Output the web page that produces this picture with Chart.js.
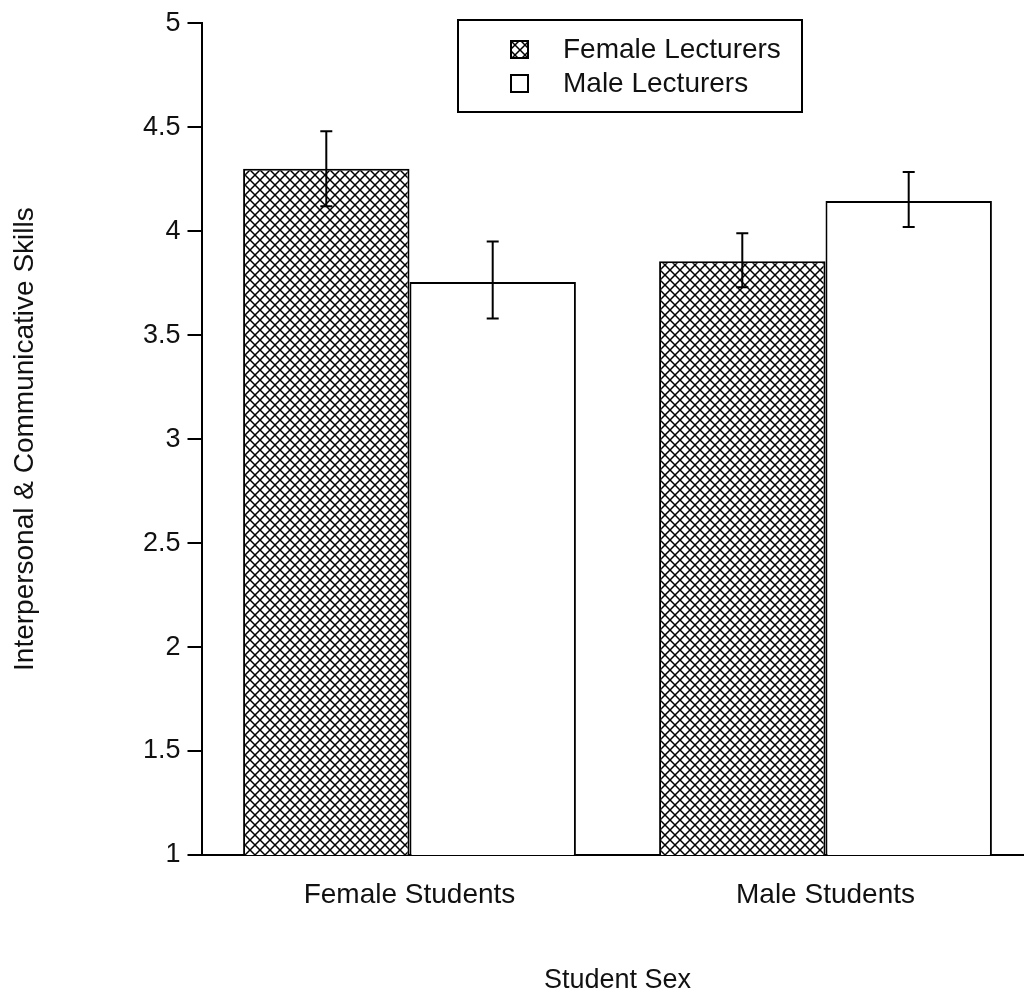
<!DOCTYPE html>
<html>
<head>
<meta charset="utf-8">
<script src="https://cdn.jsdelivr.net/npm/chart.js@4.4.1/dist/chart.umd.min.js"></script>
<style>
  html, body { margin: 0; padding: 0; background: #fff; overflow: hidden; }
  canvas { display: block; }
</style>
</head>
<body>
<canvas id="skillsChart" width="1040" height="998"></canvas>
<script>
const categories = ['Female Students', 'Male Students'];
const seriesLabels = ['Female Lecturers', 'Male Lecturers'];
const femaleLecturers = [4.30, 3.855];
const maleLecturers = [3.755, 4.145];
const femaleErrLow = [4.12, 3.73];
const femaleErrHigh = [4.48, 3.99];
const maleErrLow = [3.58, 4.02];
const maleErrHigh = [3.95, 4.285];
const yTicks = [1, 1.5, 2, 2.5, 3, 3.5, 4, 4.5, 5];

const FONT = '"Liberation Sans", Arial, sans-serif';

function makeHatch() {
    const c = document.createElement('canvas');
    c.width = 10; c.height = 10;
    const g = c.getContext('2d');
    g.fillStyle = '#fff';
    g.fillRect(0, 0, 10, 10);
    g.strokeStyle = '#000';
    g.lineWidth = 1.5;
    g.beginPath();
    g.moveTo(-1, -1); g.lineTo(11, 11);
    g.moveTo(11, -1); g.lineTo(-1, 11);
    g.stroke();
    return g.createPattern(c, 'repeat');
}

const hatch = makeHatch();

const errorBars = {
    id: 'errorBars',
    afterDatasetsDraw(chart) {
        const ctx = chart.ctx;
        const y = chart.scales.y;
        const lows = [femaleErrLow, maleErrLow];
        const highs = [femaleErrHigh, maleErrHigh];
        ctx.save();
        ctx.strokeStyle = '#000';
        ctx.lineWidth = 2;
        chart.data.datasets.forEach((ds, i) => {
            chart.getDatasetMeta(i).data.forEach((bar, j) => {
                const yl = y.getPixelForValue(lows[i][j]);
                const yh = y.getPixelForValue(highs[i][j]);
                ctx.beginPath();
                ctx.moveTo(bar.x, yl); ctx.lineTo(bar.x, yh);
                ctx.moveTo(bar.x - 6, yl); ctx.lineTo(bar.x + 6, yl);
                ctx.moveTo(bar.x - 6, yh); ctx.lineTo(bar.x + 6, yh);
                ctx.stroke();
            });
        });
        ctx.restore();
    }
};

const boxLegend = {
    id: 'boxLegend',
    afterDraw(chart) {
        const ctx = chart.ctx;
        ctx.save();
        ctx.fillStyle = '#fff';
        ctx.fillRect(458, 20, 344, 92);
        ctx.strokeStyle = '#000';
        ctx.lineWidth = 2;
        ctx.strokeRect(458, 20, 344, 92);
        ctx.font = '28px ' + FONT;
        ctx.textBaseline = 'middle';
        chart.data.datasets.forEach((ds, i) => {
            const cy = 49 + i * 34;
            ctx.fillStyle = ds.backgroundColor;
            ctx.fillRect(511, cy - 8, 17, 17);
            ctx.strokeRect(511, cy - 8, 17, 17);
            ctx.fillStyle = '#111';
            ctx.fillText(ds.label, 563, cy + 1);
        });
        ctx.restore();
    }
};

new Chart(document.getElementById('skillsChart'), {
    type: 'bar',
    data: {
        labels: categories,
        datasets: [
            {
                label: seriesLabels[0],
                data: femaleLecturers,
                backgroundColor: hatch,
                borderColor: '#000',
                borderWidth: 2,
                borderSkipped: false
            },
            {
                label: seriesLabels[1],
                data: maleLecturers,
                backgroundColor: '#fff',
                borderColor: '#000',
                borderWidth: 2,
                borderSkipped: false
            }
        ]
    },
    options: {
        responsive: false,
        animation: false,
        layout: { padding: { top: 22, right: 6.5, left: 0, bottom: 0 } },
        datasets: { bar: { barPercentage: 1, categoryPercentage: 0.8 } },
        plugins: {
            legend: { display: false },
            tooltip: { enabled: false }
        },
        scales: {
            x: {
                afterFit(scale) { scale.height = 143; },
                grid: { display: false },
                border: { display: true, color: '#000', width: 2 },
                ticks: { color: '#111', padding: 15, font: { family: FONT, size: 28 } },
                title: {
                    display: true,
                    text: 'Student Sex',
                    color: '#111',
                    padding: { top: 1, bottom: 1 },
                    font: { family: FONT, size: 27 }
                }
            },
            y: {
                min: 1,
                max: 5,
                afterFit(scale) { scale.width = 201.5; },
                afterBuildTicks(scale) { scale.ticks = yTicks.map(v => ({ value: v })); },
                grid: { drawOnChartArea: false, tickLength: 14, color: '#000', lineWidth: 2 },
                border: { display: true, color: '#000', width: 2 },
                ticks: {
                    color: '#111',
                    padding: 7,
                    font: { family: FONT, size: 27 },
                    callback: v => String(v)
                },
                title: {
                    display: true,
                    text: 'Interpersonal & Communicative Skills',
                    color: '#111',
                    padding: { top: 8, bottom: 0 },
                    font: { family: FONT, size: 28 }
                }
            }
        }
    },
    plugins: [errorBars, boxLegend]
});
</script>
</body>
</html>
